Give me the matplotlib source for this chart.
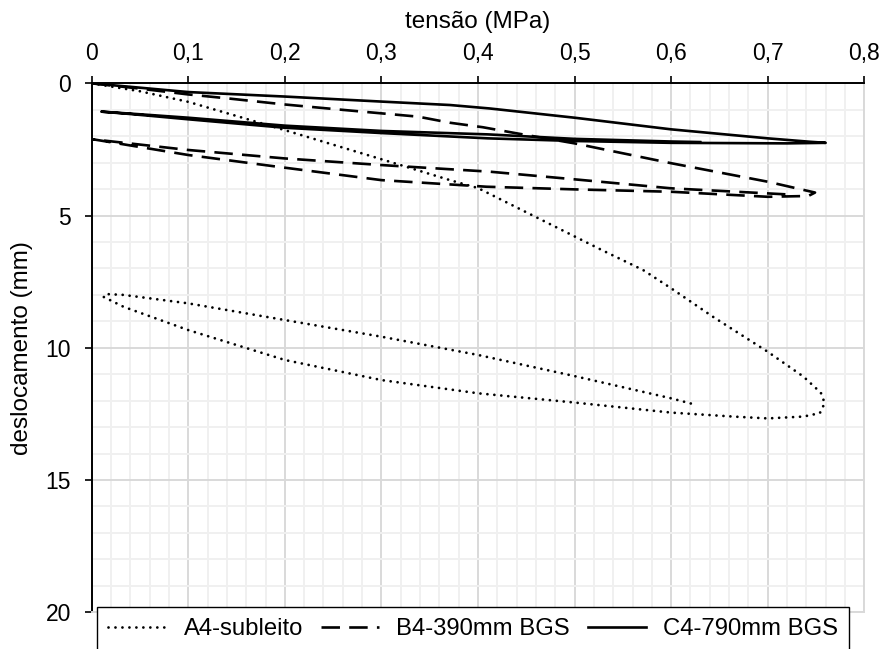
import numpy as np
import matplotlib
matplotlib.use("Agg")
import matplotlib.pyplot as plt
from matplotlib.ticker import MultipleLocator, FuncFormatter

plt.rcParams["font.family"] = ["Liberation Sans", "DejaVu Sans"]

# A4-subleito (dotted): loading, unloading, reloading
a4_tensao = [0.0, 0.05, 0.1, 0.2, 0.3, 0.371, 0.4, 0.528, 0.571, 0.6, 0.643, 0.7, 0.737, 0.755, 0.759,
             0.754, 0.737, 0.70, 0.664, 0.6, 0.5, 0.4, 0.3, 0.2, 0.1, 0.033, 0.012,
             0.016, 0.033, 0.1, 0.2, 0.3, 0.4, 0.5, 0.6, 0.626]
a4_desloc = [0.0, 0.30, 0.70, 1.77, 2.87, 3.66, 3.96, 6.30, 7.06, 7.75, 8.82, 10.15, 11.09, 11.7, 12.09,
             12.47, 12.60, 12.67, 12.60, 12.45, 12.07, 11.72, 11.22, 10.46, 9.33, 8.45, 8.07,
             7.97, 8.00, 8.32, 8.95, 9.58, 10.27, 11.07, 11.91, 12.16]

# B4-390mm BGS (dashed)
b4_tensao = [0.0, 0.05, 0.1, 0.141, 0.2, 0.262, 0.338, 0.371, 0.405, 0.44, 0.5, 0.6, 0.7, 0.749,
             0.742, 0.70, 0.6, 0.5, 0.409, 0.3, 0.2, 0.1, 0.002,
             0.1, 0.2, 0.3, 0.412, 0.5, 0.6, 0.72]
b4_desloc = [0.0, 0.20, 0.42, 0.57, 0.80, 1.01, 1.26, 1.49, 1.66, 1.89, 2.27, 3.02, 3.72, 4.13,
             4.26, 4.29, 4.10, 4.01, 3.91, 3.66, 3.19, 2.71, 2.12,
             2.52, 2.84, 3.09, 3.34, 3.63, 3.97, 4.20]

# C4-790mm BGS (solid)
c4_tensao = [0.0, 0.1, 0.2, 0.3, 0.371, 0.412, 0.5, 0.6, 0.7, 0.744, 0.760,
             0.72, 0.6, 0.5, 0.41, 0.3, 0.2, 0.1, 0.04, 0.01,
             0.05, 0.1, 0.2, 0.3, 0.41, 0.5, 0.6, 0.63]
c4_desloc = [0.0, 0.33, 0.50, 0.69, 0.82, 0.95, 1.30, 1.74, 2.08, 2.21, 2.25,
             2.27, 2.25, 2.18, 2.08, 1.88, 1.68, 1.36, 1.16, 1.07,
             1.17, 1.30, 1.60, 1.80, 1.93, 2.10, 2.20, 2.22]

fig = plt.figure(figsize=(8.85, 6.49), dpi=100)
ax = fig.add_axes([0.1036, 0.0566, 0.8730, 0.8150])

ax.plot(a4_tensao, a4_desloc, color="black", lw=2.0, linestyle=(0, (0.01, 2.5)),
        dash_capstyle="round", label="A4-subleito")
ax.plot(b4_tensao, b4_desloc, color="black", lw=1.9, linestyle=(0, (7, 3.5)), label="B4-390mm BGS")
ax.plot(c4_tensao, c4_desloc, color="black", lw=1.9, linestyle="-", label="C4-790mm BGS")

ax.set_xlim(0, 0.8)
ax.set_ylim(20, 0)
ax.xaxis.set_major_locator(MultipleLocator(0.1))
ax.xaxis.set_minor_locator(MultipleLocator(0.02))
ax.yaxis.set_major_locator(MultipleLocator(5))
ax.yaxis.set_minor_locator(MultipleLocator(1))
ax.xaxis.set_major_formatter(FuncFormatter(lambda v, p: ("%g" % round(v, 2)).replace(".", ",")))
ax.yaxis.set_major_formatter(FuncFormatter(lambda v, p: "%d" % v))

ax.xaxis.tick_top()
ax.xaxis.set_label_position("top")
ax.tick_params(axis="x", which="major", direction="out", length=5, width=1.2, labelsize=16.5, pad=8)
ax.tick_params(axis="y", which="major", direction="out", length=5, width=1.2, labelsize=16.5, pad=10)
ax.tick_params(which="minor", length=0)

ax.grid(which="major", color="#d9d9d9", lw=1.4)
ax.grid(which="minor", color="#f0f0f0", lw=1.4)
ax.set_axisbelow(True)

for s in ["top", "left"]:
    ax.spines[s].set_color("black")
    ax.spines[s].set_linewidth(1.4)
for s in ["bottom", "right"]:
    ax.spines[s].set_color("#d9d9d9")
    ax.spines[s].set_linewidth(1.4)

ax.set_xlabel("tensão (MPa)", fontsize=17.5, labelpad=10)
ax.set_ylabel("deslocamento (mm)", fontsize=17.5, labelpad=9)

leg = fig.legend(loc="center", bbox_to_anchor=(98 / 885, -0.003, 750 / 885, 0.068),
                 ncol=3, fontsize=17.2, frameon=True, fancybox=False,
                 handlelength=2.45, handletextpad=0.7, columnspacing=0.75,
                 borderpad=0.45, borderaxespad=0)
leg.get_frame().set_edgecolor("black")
leg.get_frame().set_linewidth(1.0)
leg.get_frame().set_alpha(1)

fig.savefig("out.png", dpi=100)
